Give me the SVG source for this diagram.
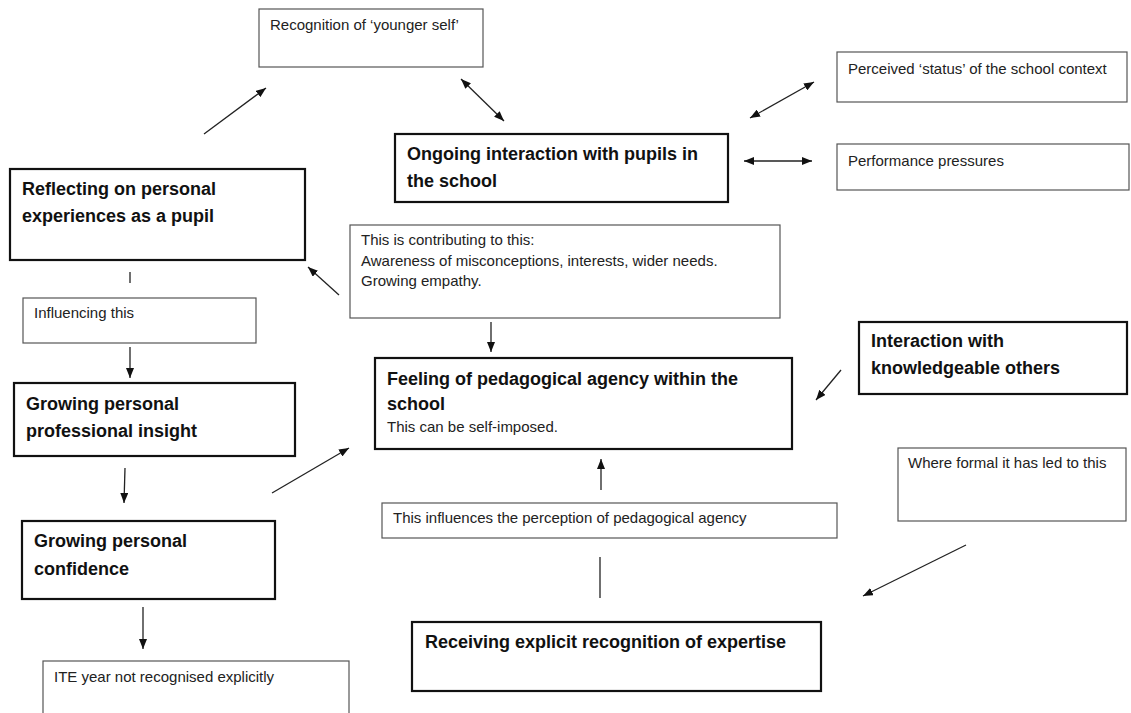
<svg xmlns="http://www.w3.org/2000/svg" width="1131" height="713" viewBox="0 0 1131 713">
<defs>
<marker id="ah" viewBox="0 0 10 8" refX="10" refY="4" markerWidth="10" markerHeight="8" markerUnits="userSpaceOnUse" orient="auto-start-reverse">
<path d="M0,0 L10,4 L0,8 z" fill="#111"/>
</marker>
<style>
.thin{fill:#fff;stroke:#555;stroke-width:1.2}
.thick{fill:#fff;stroke:#111;stroke-width:2.2}
.r{font-family:"Liberation Sans",Arial,sans-serif;font-size:15px;fill:#222}
.b{font-family:"Liberation Sans",Arial,sans-serif;font-size:18px;font-weight:bold;fill:#111}
.c{stroke:#222;stroke-width:1.3;fill:none}
.a{marker-end:url(#ah)}
.d{marker-start:url(#ah);marker-end:url(#ah)}
</style>
</defs>
<rect width="1131" height="713" fill="#fff"/>
<g id="connectors">
<line class="c a" x1="204" y1="134" x2="266" y2="88"/>
<line class="c d" x1="461" y1="79" x2="504" y2="121"/>
<line class="c d" x1="750" y1="118" x2="814" y2="82"/>
<line class="c d" x1="744" y1="161" x2="812" y2="161"/>
<line class="c a" x1="339" y1="295" x2="308" y2="267"/>
<line class="c" x1="130" y1="272" x2="130" y2="283"/>
<line class="c a" x1="130" y1="347" x2="130" y2="378"/>
<line class="c a" x1="491" y1="322" x2="491" y2="352"/>
<line class="c a" x1="125" y1="468" x2="124" y2="503"/>
<line class="c a" x1="272" y1="493" x2="349" y2="448"/>
<line class="c a" x1="841" y1="370" x2="816" y2="400"/>
<line class="c a" x1="601" y1="490" x2="601" y2="459"/>
<line class="c" x1="600" y1="557" x2="600" y2="598"/>
<line class="c a" x1="966" y1="545" x2="863" y2="596"/>
<line class="c a" x1="143" y1="607" x2="143" y2="649"/>
</g>
<g id="recognition"><rect class="thin" x="259" y="9" width="224" height="58"/><text class="r" x="270" y="30">Recognition of ‘younger self’</text></g>
<g id="perceived"><rect class="thin" x="837" y="52" width="290" height="50"/><text class="r" x="848" y="74">Perceived ‘status’ of the school context</text></g>
<g id="ongoing"><rect class="thick" x="395" y="134" width="333" height="68"/><text class="b" x="407" y="160">Ongoing interaction with pupils in</text><text class="b" x="407" y="187">the school</text></g>
<g id="performance"><rect class="thin" x="837" y="144" width="292" height="46"/><text class="r" x="848" y="166">Performance pressures</text></g>
<g id="reflecting"><rect class="thick" x="10" y="169" width="295" height="91"/><text class="b" x="22" y="195">Reflecting on personal</text><text class="b" x="22" y="222">experiences as a pupil</text></g>
<g id="contributing"><rect class="thin" x="350" y="225" width="430" height="93"/><text class="r" x="361" y="245">This is contributing to this:</text><text class="r" x="361" y="266">Awareness of misconceptions, interests, wider needs.</text><text class="r" x="361" y="286">Growing empathy.</text></g>
<g id="influencing"><rect class="thin" x="23" y="298" width="233" height="45"/><text class="r" x="34" y="318">Influencing this</text></g>
<g id="interaction"><rect class="thick" x="859" y="322" width="268" height="72"/><text class="b" x="871" y="347">Interaction with</text><text class="b" x="871" y="374">knowledgeable others</text></g>
<g id="feeling"><rect class="thick" x="375" y="358" width="417" height="91"/><text class="b" x="387" y="385">Feeling of pedagogical agency within the</text><text class="b" x="387" y="410">school</text><text class="r" x="387" y="432">This can be self-imposed.</text></g>
<g id="insight"><rect class="thick" x="14" y="383" width="281" height="73"/><text class="b" x="26" y="410">Growing personal</text><text class="b" x="26" y="437">professional insight</text></g>
<g id="whereformal"><rect class="thin" x="898" y="448" width="228" height="73"/><text class="r" x="908" y="468">Where formal it has led to this</text></g>
<g id="influences"><rect class="thin" x="382" y="503" width="455" height="35"/><text class="r" x="393" y="523">This influences the perception of pedagogical agency</text></g>
<g id="confidence"><rect class="thick" x="22" y="521" width="253" height="78"/><text class="b" x="34" y="547">Growing personal</text><text class="b" x="34" y="575">confidence</text></g>
<g id="receiving"><rect class="thick" x="412" y="622" width="409" height="69"/><text class="b" x="425" y="648">Receiving explicit recognition of expertise</text></g>
<g id="ite"><rect class="thin" x="43" y="661" width="306" height="62"/><text class="r" x="54" y="682">ITE year not recognised explicitly</text></g>
</svg>
